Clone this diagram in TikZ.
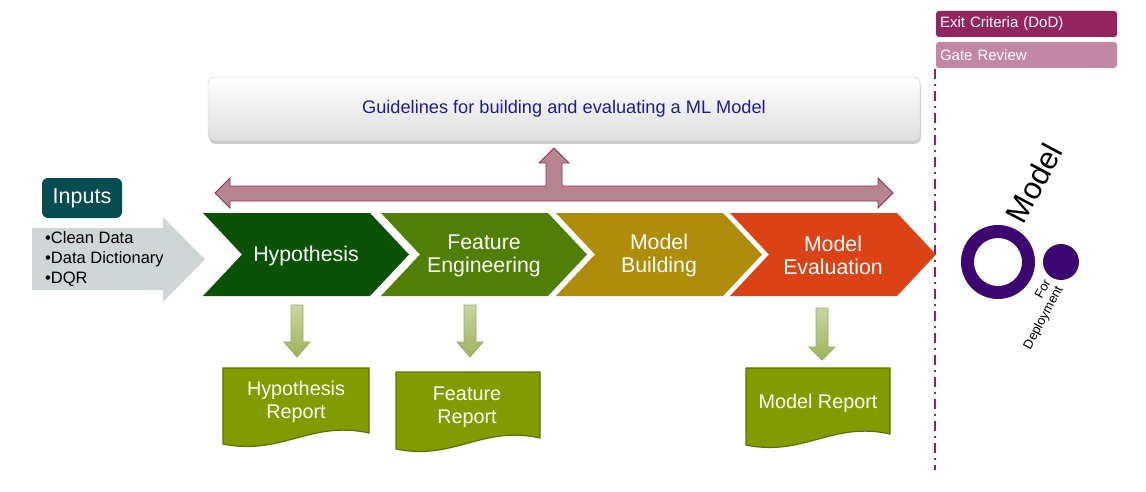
\documentclass[tikz,border=0pt]{standalone}
\usepackage{fontspec}
\setmainfont{Liberation Sans}
\usetikzlibrary{shadows}
\definecolor{exitc}{HTML}{93245E}
\definecolor{gatec}{HTML}{C387A6}
\definecolor{dashc}{HTML}{9C1C5F}
\definecolor{guidetxt}{HTML}{1C1C94}
\definecolor{arrfill}{HTML}{B5848F}
\definecolor{arrdraw}{HTML}{8C2F5F}
\definecolor{inputsc}{HTML}{074C50}
\definecolor{grayarr}{HTML}{D0D5D5}
\definecolor{hypc}{HTML}{0A5205}
\definecolor{featc}{HTML}{4F7F04}
\definecolor{buildc}{HTML}{AF8C0A}
\definecolor{evalc}{HTML}{DB4215}
\definecolor{docfill}{HTML}{829C00}
\definecolor{docdraw}{HTML}{5B7300}
\definecolor{dtop}{HTML}{C8D6A2}
\definecolor{dbot}{HTML}{9BB45A}
\definecolor{ddraw}{HTML}{97AE5C}
\definecolor{purp}{HTML}{3E0670}
\newcommand\chevron[4]{%
  \fill[#2] (#1,213) -- ({#1+167},213) -- ({#1+206},254.5) -- ({#1+167},296) -- (#1,296) -- ({#1+39},254.5) -- cycle;
  \node[chevtxt] (#3) at ({#1+103},255.5) {#4};}
\newcommand\downarr[4]{%
  \draw[ddraw, line width=0.8pt, top color=dtop, bottom color=dbot]
    ({#1-6},#2) -- ({#1+6},#2) -- ({#1+6},#3) -- ({#1+13},#3) -- (#1,#4) -- ({#1-13},#3) -- ({#1-6},#3) -- cycle;}
\newcommand\docshape[4]{%
  \draw[docdraw, fill=docfill, line width=1.2pt]
    (#1,#3) -- (#2,#3) -- (#2,{#4-11})
    .. controls ({#2-0.4*(#2-#1)},{#4-24}) and ({#1+0.4*(#2-#1)},{#4+12}) .. (#1,#4) -- cycle;}
\begin{document}
\begin{tikzpicture}[x=1pt,y=-1pt,
  chevtxt/.style={text=white, font=\fontsize{21.3}{23}\selectfont, align=center, inner sep=0pt},
  doctxt/.style={text=white, font=\fontsize{19.8}{23}\selectfont, align=center, inner sep=0pt},
  tagbox/.style={rounded corners=3pt, minimum height=26pt, text width=173pt, inner xsep=4pt, align=left,
    text=white, font=\fontsize{15}{17}\selectfont}]
\useasboundingbox (0,0) rectangle (1146,492);

% legend boxes
\node[tagbox, fill=exitc] (exit) at (1026.5,24) {Exit Criteria (DoD)};
\node[tagbox, fill=gatec] (gate) at (1026.5,55) {Gate Review};

% dash-dot separator
\coordinate (sepTop) at (935,69);
\coordinate (sepBot) at (935,470);
\draw[dashc, line width=2pt, dash pattern=on 10pt off 5pt on 2pt off 5pt] (sepTop) -- (sepBot);

% guidelines box
\node[draw=black!18, rounded corners=7pt, top color=white, bottom color=black!13,
  drop shadow={shadow xshift=1pt, shadow yshift=-3pt, opacity=0.4},
  minimum width=712pt, minimum height=64pt, text=guidetxt, font=\fontsize{18.2}{20}\selectfont]
  (guide) at (564,109) {Guidelines for building and evaluating a ML Model};

% double arrow with up arrow
\draw[arrdraw, fill=arrfill, line width=0.9pt]
  (215,193) -- (230,178) -- (230,186) -- (546,186) -- (546,163) -- (539,163) -- (554,148)
  -- (569,163) -- (562,163) -- (562,186) -- (878,186) -- (878,178) -- (893,193)
  -- (878,208) -- (878,201) -- (230,201) -- (230,208) -- cycle;

% inputs
\node[fill=inputsc, rounded corners=6pt, minimum width=80pt, minimum height=40pt,
  text=white, font=\fontsize{21.5}{24}\selectfont] (inputs) at (82,198) {Inputs};
\fill[grayarr] (32,228) -- (163,228) -- (163,217) -- (205,259.5) -- (163,302) -- (163,290) -- (32,290) -- cycle;
\node[anchor=west, align=left, inner sep=0pt, font=\fontsize{16.5}{20}\selectfont] (inlist) at (45,259)
  {•Clean Data\\•Data Dictionary\\•DQR};

% chevrons
\chevron{203}{hypc}{hyp}{Hypothesis}
\chevron{381}{featc}{feat}{Feature\\Engineering}
\chevron{556}{buildc}{build}{Model\\Building}
\chevron{730}{evalc}{eval}{Model\\Evaluation}

% down arrows
\downarr{297}{305}{342}{357}
\downarr{470}{305}{342}{357}
\downarr{822}{308}{347}{360}

% reports
\docshape{223}{369}{368}{444}
\node[doctxt] (hyprep) at (296,402) {Hypothesis\\Report};
\docshape{396}{540}{372}{449}
\node[doctxt] (featrep) at (467,407) {Feature\\Report};
\docshape{746}{890}{368}{445}
\node[doctxt] (modrep) at (818,403) {Model Report};

% model symbol
\draw[purp, line width=13pt] (998,262) circle (30.5pt);
\fill[purp] (1061,262) circle (18pt);
\node[rotate=62, font=\fontsize{31}{32}\selectfont, inner sep=0pt] (modeltxt) at (1034,183) {Model};
\node[rotate=62, align=right, font=\fontsize{13}{13.5}\selectfont, inner sep=0pt] (fordep) at (1038,315) {For\\Deployment};
\end{tikzpicture}
\end{document}
